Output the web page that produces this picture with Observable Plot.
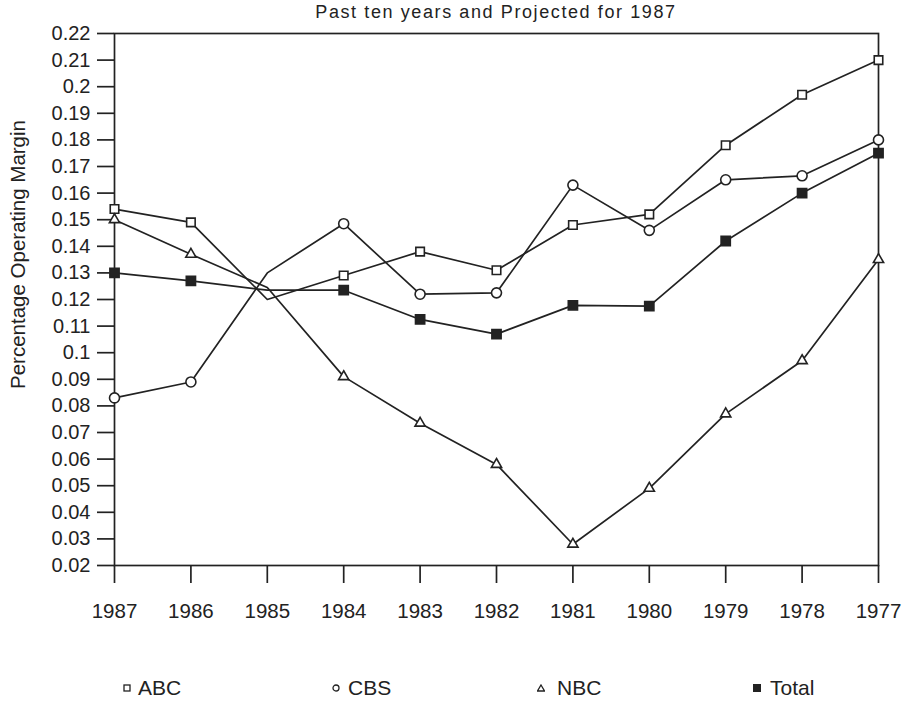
<!DOCTYPE html>
<html>
<head>
<meta charset="utf-8">
<script src="https://cdn.jsdelivr.net/npm/d3@7"></script>
<script src="https://cdn.jsdelivr.net/npm/@observablehq/plot@0.6"></script>
<style>
  html, body { margin: 0; padding: 0; background: #fff; }
  body { width: 903px; height: 704px; overflow: hidden; font-family: "Liberation Sans", Arial, Helvetica, sans-serif; color: #222; }
  #title { height: 24px; line-height: 24px; box-sizing: border-box; padding-left: 114px; padding-right: 25px; text-align: center; font-size: 18px; letter-spacing: 1.6px; }
  #legend { position: relative; height: 40px; }
  .item { position: absolute; top: 12px; height: 24px; line-height: 24px; font-size: 21px; white-space: nowrap; }
  .item svg { position: absolute; top: 8px; }
  .item span { position: absolute; top: 0; }
  #chart svg g[aria-label="x-axis tick label"] { font-size: 20.5px !important; }
  #chart svg g[aria-label="y-axis tick label"] { font-size: 20px !important; }
  #chart svg { overflow: visible; }
</style>
</head>
<body>
<div id="title">Past ten years and Projected for 1987</div>
<div id="chart"></div>
<div id="legend"></div>
<script>
const years = [1987, 1986, 1985, 1984, 1983, 1982, 1981, 1980, 1979, 1978, 1977];
const abc   = [0.154, 0.149, 0.120, 0.129, 0.138, 0.131, 0.148, 0.152, 0.178, 0.197, 0.210];
const cbs   = [0.083, 0.089, 0.130, 0.1485, 0.122, 0.1225, 0.163, 0.146, 0.165, 0.1665, 0.180];
const nbc   = [0.150, 0.137, 0.1245, 0.091, 0.0735, 0.058, 0.028, 0.049, 0.077, 0.097, 0.135];
const total = [0.130, 0.127, 0.1235, 0.1235, 0.1125, 0.107, 0.1178, 0.1175, 0.142, 0.160, 0.175];
const marked = [true, true, false, true, true, true, true, true, true, true, true];
const seriesNames = ["ABC", "CBS", "NBC", "Total"];
const yTicks = [0.02,0.03,0.04,0.05,0.06,0.07,0.08,0.09,0.10,0.11,0.12,0.13,0.14,0.15,0.16,0.17,0.18,0.19,0.20,0.21,0.22];
const yLabel = "Percentage Operating Margin";

const seriesValues = {ABC: abc, CBS: cbs, NBC: nbc, Total: total};
const rows = seriesNames.flatMap(s => years.map((yr, i) => ({series: s, year: yr, value: seriesValues[s][i], marked: marked[i]})));
const ink = "#222";
const symbolOf = {ABC: "square", CBS: "circle", NBC: "triangle", Total: "square"};
const fillOf = {ABC: "white", CBS: "white", NBC: "white", Total: ink};
const rOf = {ABC: 4.8, CBS: 5, NBC: 3.8, Total: 5.2};

const marks = [
  Plot.frame({stroke: ink, strokeWidth: 1.7}),
  Plot.axisX({ticks: years, tickFormat: d => String(d), tickSize: 18, tickPadding: 20, fontSize: 20.5, label: null, strokeWidth: 1.7, stroke: ink, fill: ink}),
  Plot.axisY({ticks: yTicks, tickFormat: d => String(+d.toFixed(2)), tickSize: 17, tickPadding: 7, fontSize: 20, label: null, strokeWidth: 1.7, stroke: ink, fill: ink}),
  Plot.text([yLabel], {frameAnchor: "left", text: d => d, rotate: -90, textAnchor: "middle", lineAnchor: "middle", dx: -96, dy: -45, fontSize: 20.5, fill: ink}),
];
for (const s of seriesNames) {
  const data = rows.filter(r => r.series === s);
  marks.push(Plot.line(data, {x: "year", y: "value", stroke: ink, strokeWidth: 1.7}));
}
for (const s of seriesNames) {
  const data = rows.filter(r => r.series === s && r.marked);
  marks.push(Plot.dot(data, {x: "year", y: "value", symbol: () => symbolOf[s], r: rOf[s], fill: fillOf[s], stroke: ink, strokeWidth: 1.6}));
}

const chart = Plot.plot({
  width: 903,
  height: 640,
  marginTop: 9,
  marginBottom: 99,
  marginLeft: 114,
  marginRight: 25,
  style: {fontFamily: '"Liberation Sans", Arial, Helvetica, sans-serif', fontSize: "20px", color: ink, background: "white", overflow: "visible"},
  x: {type: "linear", domain: [1987, 1977]},
  y: {domain: [0.02, 0.22]},
  symbol: {type: "identity"},
  marks
});
document.getElementById("chart").appendChild(chart);

// legend
const legendPos = {ABC: [123, 138], CBS: [332, 348], NBC: [537, 557], Total: [753, 770]};
const legend = document.getElementById("legend");
for (const s of seriesNames) {
  const [mx, tx] = legendPos[s];
  const item = document.createElement("div");
  item.className = "item";
  item.style.left = "0px";
  let shape;
  if (s === "ABC") shape = `<rect x="1" y="1" width="6" height="6" fill="white" stroke="${ink}" stroke-width="1.3"/>`;
  else if (s === "CBS") shape = `<circle cx="4" cy="4" r="3" fill="white" stroke="${ink}" stroke-width="1.3"/>`;
  else if (s === "NBC") shape = `<path d="M4,1 L7.5,7 L0.5,7 Z" fill="white" stroke="${ink}" stroke-width="1.3"/>`;
  else shape = `<rect x="0" y="0" width="8" height="8" fill="${ink}"/>`;
  item.innerHTML = `<svg width="8" height="8" style="left:${mx}px">${shape}</svg><span style="left:${tx}px">${s}</span>`;
  legend.appendChild(item);
}
</script>
</body>
</html>
